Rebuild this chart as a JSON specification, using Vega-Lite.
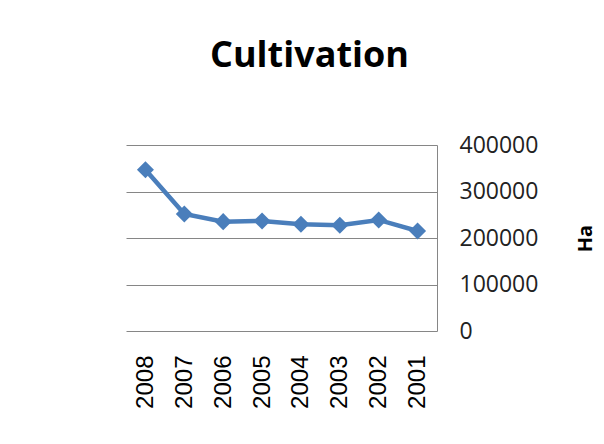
{
  "$schema": "https://vega.github.io/schema/vega-lite/v6.json",
  "width": 311,
  "height": 186,
  "autosize": {"type": "none"},
  "padding": {"left": 126, "top": 145, "right": 167, "bottom": 113},
  "background": "white",
  "title": {
    "text": "Cultivation",
    "font": "Open Sans",
    "fontSize": 36,
    "fontWeight": "bold",
    "color": "#000000",
    "anchor": "middle",
    "frame": "group",
    "baseline": "alphabetic",
    "dx": 28,
    "offset": 31
  },
  "data": {
    "values": [
      {"year": "2008", "ha": 346700},
      {"year": "2007", "ha": 251800},
      {"year": "2006", "ha": 235200},
      {"year": "2005", "ha": 236700},
      {"year": "2004", "ha": 229500},
      {"year": "2003", "ha": 227400},
      {"year": "2002", "ha": 238800},
      {"year": "2001", "ha": 215100}
    ]
  },
  "mark": {
    "type": "line",
    "color": "#4A7EBB",
    "strokeWidth": 4.5,
    "point": {"shape": "diamond", "size": 290, "filled": true, "color": "#4A7EBB", "opacity": 1}
  },
  "encoding": {
    "x": {
      "field": "year",
      "type": "ordinal",
      "sort": "descending",
      "scale": {"type": "point", "padding": 0.5},
      "axis": {
        "title": null,
        "labelAngle": -90,
        "labelAlign": "right",
        "labelBaseline": "middle",
        "labelFont": "Liberation Sans",
        "labelFontSize": 24,
        "labelColor": "#000000",
        "labelPadding": 24,
        "ticks": false,
        "domain": false,
        "grid": false
      }
    },
    "y": {
      "field": "ha",
      "type": "quantitative",
      "scale": {"domain": [0, 400000], "nice": false},
      "axis": {
        "orient": "right",
        "values": [0, 100000, 200000, 300000, 400000],
        "format": "d",
        "title": "Ha",
        "titleAngle": -90,
        "titleFont": "Open Sans",
        "titleFontSize": 20,
        "titleFontWeight": "bold",
        "titleColor": "#000000",
        "titlePadding": 58,
        "labelFont": "Open Sans",
        "labelFontSize": 23,
        "labelColor": "#222222",
        "labelPadding": 22,
        "ticks": false,
        "domain": true,
        "domainColor": "#868686",
        "domainWidth": 1,
        "grid": true,
        "gridColor": "#868686",
        "gridWidth": 1,
        "gridOpacity": 1
      }
    }
  },
  "config": {"view": {"stroke": null}}
}
